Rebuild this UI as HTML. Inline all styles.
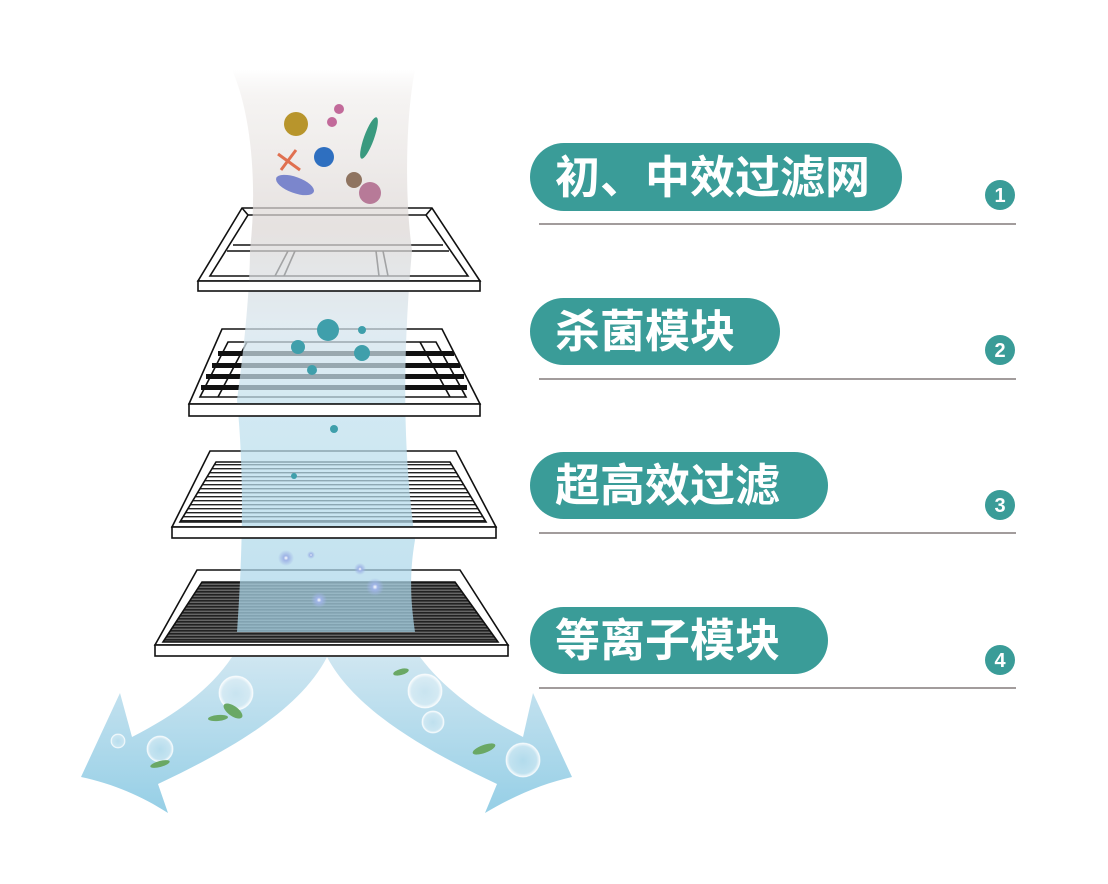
<!DOCTYPE html>
<html><head><meta charset="utf-8"><style>
html,body{margin:0;padding:0;background:#fff;}
svg{display:block}
.t{font-family:"Liberation Sans","Noto Sans CJK SC",sans-serif;font-weight:bold;fill:#fff;}
</style></head><body>
<svg width="1108" height="884" viewBox="0 0 1108 884" xmlns="http://www.w3.org/2000/svg">
<defs>
<linearGradient id="air" x1="0" y1="0" x2="0" y2="1">
<stop offset="0" stop-color="#e6e1df" stop-opacity="0"/>
<stop offset="0.06" stop-color="#efecea" stop-opacity="0.9"/>
<stop offset="0.28" stop-color="#dcd6d4"/>
<stop offset="0.45" stop-color="#d6e4ec"/>
<stop offset="0.62" stop-color="#bfe0ee"/>
<stop offset="1" stop-color="#a6d4e8"/>
</linearGradient>
<linearGradient id="arr" x1="0" y1="0" x2="0" y2="1">
<stop offset="0" stop-color="#cfe6f1"/>
<stop offset="1" stop-color="#96cfe6"/>
</linearGradient>
<radialGradient id="bub" cx="0.5" cy="0.5" r="0.5">
<stop offset="0" stop-color="#fff" stop-opacity="0.1"/>
<stop offset="0.8" stop-color="#fff" stop-opacity="0.3"/>
<stop offset="1" stop-color="#fff" stop-opacity="0.9"/>
</radialGradient>
<radialGradient id="orb" cx="0.5" cy="0.5" r="0.5">
<stop offset="0" stop-color="#fff"/>
<stop offset="0.3" stop-color="#9fb4e6"/>
<stop offset="1" stop-color="#9fb4e6" stop-opacity="0"/>
</radialGradient>
<pattern id="stripe" width="6" height="4" patternUnits="userSpaceOnUse">
<rect width="6" height="4" fill="#fff"/><rect width="6" height="1.4" fill="#222"/>
</pattern>
<pattern id="stripe4" width="6" height="3" patternUnits="userSpaceOnUse">
<rect width="6" height="3" fill="#666"/><rect width="6" height="1.6" fill="#222"/>
</pattern>
</defs>

<!-- arrows -->
<path d="M232,657 C210,690 175,715 132,737 L120,693 L81,777 C110,783 140,795 168,813 L158,784 C230,750 300,710 327,657 Z" fill="url(#arr)"/>
<path d="M327,657 C355,710 425,750 497,784 L485,813 C515,795 545,783 572,777 L533,693 L523,737 C480,715 445,690 420,657 Z" fill="url(#arr)"/>
<g fill="url(#bub)" stroke="#fff" stroke-opacity="0.6">
<circle cx="236" cy="693" r="17"/><circle cx="160" cy="749" r="13"/><circle cx="118" cy="741" r="7"/>
<circle cx="425" cy="691" r="17"/><circle cx="433" cy="722" r="11"/><circle cx="523" cy="760" r="17"/>
</g>
<g fill="#6aa865">
<ellipse cx="233" cy="711" rx="11" ry="5" transform="rotate(35 233 711)"/>
<ellipse cx="218" cy="718" rx="10" ry="3" transform="rotate(-5 218 718)"/>
<ellipse cx="160" cy="764" rx="10" ry="3" transform="rotate(-15 160 764)"/>
<ellipse cx="401" cy="672" rx="8" ry="3" transform="rotate(-15 401 672)"/>
<ellipse cx="484" cy="749" rx="12" ry="4" transform="rotate(-20 484 749)"/>
</g>

<!-- filters (tops) -->
<g stroke="#111" stroke-width="1.6" fill="#fff">
<path d="M242,208 L432,208 L480,281 L198,281 Z"/>
<path d="M248,215 L426,215 L468,276 L210,276 Z"/>
<path d="M242,208 L248,215 M432,208 L426,215" fill="none"/>
<line x1="233" y1="245" x2="443" y2="245"/>
<line x1="227" y1="251" x2="449" y2="251"/>
<line x1="288" y1="251" x2="275" y2="276"/><line x1="295" y1="251" x2="284" y2="276"/>
<line x1="376" y1="251" x2="379" y2="276"/><line x1="383" y1="251" x2="388" y2="276"/>
</g>
<g stroke="#111" stroke-width="1.6">
<path d="M222,329 L442,329 L480,404 L189,404 Z" fill="#fff"/>
<path d="M228,342 L436,342 L466,397 L200,397 Z" fill="#fff"/>
<g fill="#111" stroke="none">
<rect x="218" y="351" width="236" height="5"/><rect x="212" y="363" width="248" height="5"/>
<rect x="206" y="374" width="258" height="5"/><rect x="201" y="385" width="266" height="5"/>
</g>
<line x1="247" y1="342" x2="218" y2="397"/><line x1="420" y1="342" x2="450" y2="397"/>
</g>
<g stroke="#111" stroke-width="1.6">
<path d="M210,451 L456,451 L496,527 L172,527 Z" fill="#fff"/>
<path d="M216,462 L450,462 L486,522 L180,522 Z" fill="url(#stripe)"/>
</g>
<g stroke="#111" stroke-width="1.6">
<path d="M197,570 L460,570 L508,645 L155,645 Z" fill="#fff"/>
<path d="M202,582 L455,582 L498,642 L163,642 Z" fill="url(#stripe4)"/>
</g>

<!-- air column -->
<path d="M232,70 L415,70 C405,120 405,200 412,250 C405,330 400,430 415,540 C408,580 412,610 415,632 L237,632 C242,560 245,480 237,400 C248,320 250,270 250,250 C258,180 250,110 232,70 Z" fill="url(#air)" opacity="0.72"/>

<!-- front bands over column -->
<g stroke="#111" stroke-width="1.6" fill="#fff">
<rect x="198" y="281" width="282" height="10"/>
<rect x="189" y="404" width="291" height="12"/>
<rect x="172" y="527" width="324" height="11"/>
<rect x="155" y="645" width="353" height="11"/>
</g>

<!-- microbes -->
<circle cx="296" cy="124" r="12" fill="#b8952c"/>
<circle cx="332" cy="122" r="5" fill="#c26a9a"/><circle cx="339" cy="109" r="5" fill="#c26a9a"/>
<ellipse cx="369" cy="138" rx="5" ry="22" fill="#3a9a7f" transform="rotate(20 369 138)"/>
<line x1="278" y1="154" x2="300" y2="170" stroke="#e07050" stroke-width="3"/>
<line x1="281" y1="170" x2="296" y2="150" stroke="#e07050" stroke-width="3"/>
<circle cx="324" cy="157" r="10" fill="#2e6fc0"/>
<ellipse cx="295" cy="185" rx="20" ry="8" fill="#7b86cc" transform="rotate(20 295 185)"/>
<circle cx="354" cy="180" r="8" fill="#8f7460"/><circle cx="370" cy="193" r="11" fill="#b77a98"/>
<g fill="#3f9fab">
<circle cx="328" cy="330" r="11"/><circle cx="298" cy="347" r="7"/><circle cx="362" cy="353" r="8"/>
<circle cx="362" cy="330" r="4"/><circle cx="312" cy="370" r="5"/><circle cx="334" cy="429" r="4"/><circle cx="294" cy="476" r="3"/>
</g>
<g>
<circle cx="286" cy="558" r="8" fill="url(#orb)"/><circle cx="311" cy="555" r="4" fill="url(#orb)"/>
<circle cx="360" cy="569" r="6" fill="url(#orb)"/><circle cx="375" cy="587" r="9" fill="url(#orb)"/>
<circle cx="319" cy="600" r="8" fill="url(#orb)"/>
</g>

<!-- labels -->
<g fill="#3a9c98">
<rect x="530" y="143" width="372" height="68" rx="34"/>
<rect x="530" y="298" width="250" height="67" rx="33.5"/>
<rect x="530" y="452" width="298" height="67" rx="33.5"/>
<rect x="530" y="607" width="298" height="67" rx="33.5"/>
<circle cx="1000" cy="195" r="15"/><circle cx="1000" cy="350" r="15"/>
<circle cx="1000" cy="505" r="15"/><circle cx="1000" cy="660" r="15"/>
</g>
<text class="t" x="555" y="193" font-size="45">初、中效过滤网</text>
<text class="t" x="555" y="347" font-size="45">杀菌模块</text>
<text class="t" x="555" y="501" font-size="45">超高效过滤</text>
<text class="t" x="555" y="656" font-size="45">等离子模块</text>
<g class="t" font-size="20" text-anchor="middle">
<text x="1000" y="202">1</text><text x="1000" y="357">2</text>
<text x="1000" y="512">3</text><text x="1000" y="667">4</text>
</g>
<g stroke="#6b6261" stroke-width="1.3">
<line x1="539" y1="224" x2="1016" y2="224"/><line x1="539" y1="379" x2="1016" y2="379"/>
<line x1="539" y1="533" x2="1016" y2="533"/><line x1="539" y1="688" x2="1016" y2="688"/>
</g>
</svg>
</body></html>
